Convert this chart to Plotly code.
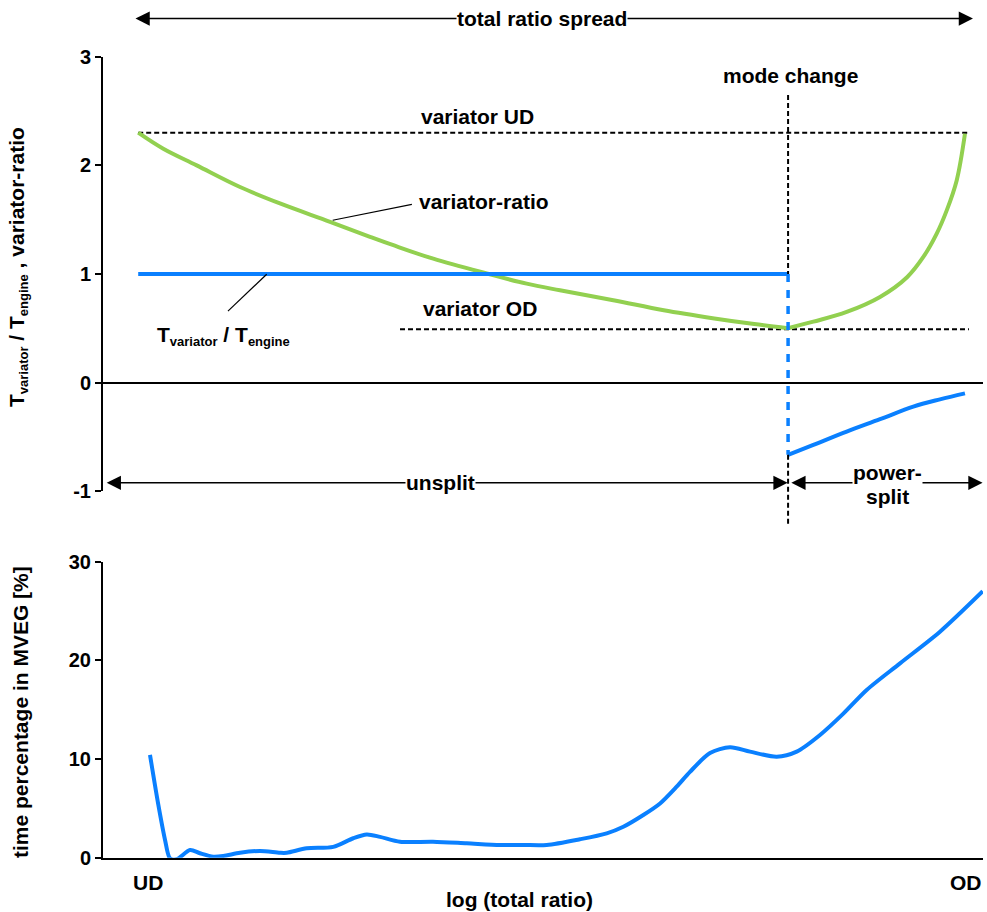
import plotly.graph_objects as go

FONT = "Liberation Sans, Arial, sans-serif"
GREEN = "#92D050"
BLUE = "#0A80FF"

# x = position along the log(total ratio) axis, in % of the axis length (0..100)
mode_change_x = 77.85

# --- top panel -----------------------------------------------------------
variator_ud = 2.30
variator_od = 0.49
ud_line_x = [4.0, 98.4]
od_line_x = [33.75, 98.4]

ratio_unsplit_x = [4.0, 6.85, 10.65, 15.57, 20.11, 25.8, 30.34, 33.0, 37.53,
                   43.6, 48.14, 51.93, 57.99, 63.72, 69.47, 74.0, 77.85]
ratio_unsplit_y = [2.30, 2.152, 1.999, 1.80, 1.649, 1.48, 1.342, 1.264, 1.14,
                   1.004, 0.91, 0.849, 0.758, 0.665, 0.59, 0.538, 0.50]

ratio_split_x = [77.85, 80.72, 84.51, 88.3, 91.4, 93.22, 94.74, 95.88, 97.01, 97.95]
ratio_split_y = [0.50, 0.56, 0.65, 0.788, 0.972, 1.156, 1.371, 1.585, 1.861, 2.29]

torque_unsplit_x = [4.0, 77.85]
torque_unsplit_y = [1.0, 1.0]
torque_jump_x = [77.85, 77.85]
torque_jump_y = [1.0, -0.666]
torque_split_x = [77.85, 80.72, 84.51, 88.3, 92.08, 95.11, 97.95]
torque_split_y = [-0.666, -0.574, -0.452, -0.338, -0.222, -0.155, -0.10]

# leader lines for the labels
ratio_leader_x = [26.1, 35.1]
ratio_leader_y = [1.494, 1.641]
torque_leader_x = [14.2, 18.6]
torque_leader_y = [0.657, 0.997]

top_yticks = [-1, 0, 1, 2, 3]
top_yticklabels = ["-1", "0", "1", "2", "3"]

# --- bottom panel --------------------------------------------------------
mveg_x = [5.34, 6.28, 7.05, 7.61, 8.38, 9.89, 11.02, 12.53, 13.67, 15.57,
          17.84, 20.11, 20.88, 23.15, 26.17, 28.44, 29.97, 31.48, 33.75, 37.5,
          41.33, 45.11, 47.73, 50.42, 54.2, 57.24, 59.13, 61.4, 63.3, 65.19,
          66.7, 68.98, 71.25, 73.52, 76.56, 78.83, 81.48, 84.13, 86.78, 90.57,
          95.11, 99.97]
mveg_y = [10.42, 5.4, 1.8, -0.06, -0.16, 0.78, 0.45, 0.1, 0.17, 0.5,
          0.68, 0.5, 0.5, 0.95, 1.1, 1.97, 2.35, 2.11, 1.62, 1.62,
          1.46, 1.29, 1.29, 1.29, 1.87, 2.47, 3.14, 4.33, 5.5, 7.2,
          8.7, 10.6, 11.2, 10.75, 10.24, 10.75, 12.44, 14.6, 17.0, 19.7,
          22.9, 27.0]

bottom_yticks = [0, 10, 20, 30]
x_end_labels = ["UD", "OD"]
x_end_pos = [5.11, 98.07]

fig = go.Figure()

def line(x, y, color, width, dash="solid", xa="x", ya="y", shape="linear", smoothing=1.0):
    fig.add_trace(go.Scatter(
        x=x, y=y, mode="lines", xaxis=xa, yaxis=ya, hoverinfo="skip",
        line=dict(color=color, width=width, dash=dash, shape=shape,
                  smoothing=smoothing if shape == "spline" else None),
        showlegend=False))

# dashed reference lines
line(ud_line_x, [variator_ud, variator_ud], "black", 2, "5px,3px")
line(od_line_x, [variator_od, variator_od], "black", 2, "5px,3px")

# variator ratio
line(ratio_unsplit_x, ratio_unsplit_y, GREEN, 4, shape="spline", smoothing=1.0)
line(ratio_split_x, ratio_split_y, GREEN, 4, shape="spline", smoothing=1.0)

# torque ratio
line(torque_unsplit_x, torque_unsplit_y, BLUE, 4)
line(torque_jump_x, torque_jump_y, BLUE, 3.5, "8px,8px")
line(torque_split_x, torque_split_y, BLUE, 4, shape="spline", smoothing=1.0)

# leader lines
line(ratio_leader_x, ratio_leader_y, "black", 1.2)
line(torque_leader_x, torque_leader_y, "black", 1.2)

# bottom curve
line(mveg_x, mveg_y, BLUE, 4, xa="x2", ya="y2", shape="spline", smoothing=0.8)

XDOM = [103 / 987, 983 / 987]
tickfont = dict(family=FONT, size=20, color="black", weight="bold")
axis_common = dict(showline=True, linecolor="black", linewidth=2, ticks="outside",
                   ticklen=6, tickwidth=2, tickcolor="black", showgrid=False,
                   tickfont=tickfont, automargin=False)

TOP_DOM = [(912 - 491.1) / 912, (912 - 56.7) / 912]

fig.update_layout(
    width=987, height=912,
    margin=dict(l=0, r=0, t=0, b=0, autoexpand=False),
    paper_bgcolor="white", plot_bgcolor="white",
    showlegend=False,
    xaxis=dict(domain=XDOM, range=[0, 100], visible=False, anchor="y", automargin=False),
    yaxis=dict(domain=TOP_DOM, range=[-1, 3],
               tickvals=top_yticks, ticktext=top_yticklabels, zeroline=True,
               zerolinecolor="black", zerolinewidth=2, anchor="x", **axis_common),
    xaxis2=dict(domain=XDOM, range=[0, 100], showline=True, linecolor="black",
                linewidth=2, showticklabels=False, ticks="", showgrid=False,
                zeroline=False, anchor="y2", automargin=False),
    yaxis2=dict(domain=[(912 - 857.7) / 912, (912 - 561.7) / 912], range=[0, 30],
                tickvals=bottom_yticks, zeroline=False, anchor="x2", **axis_common),
)

# mode change vertical dashed line (black parts above and below the blue jump)
def y_to_paper(v):
    return TOP_DOM[0] + (v + 1) / 4 * (TOP_DOM[1] - TOP_DOM[0])

for y0, y1 in [((912 - 95) / 912, y_to_paper(torque_jump_y[0])),
               (y_to_paper(torque_jump_y[1]), (912 - 524) / 912)]:
    fig.add_shape(type="line", xref="x", yref="paper", x0=mode_change_x, x1=mode_change_x,
                  y0=y0, y1=y1, line=dict(color="black", width=2, dash="5px,3px"))

afont = dict(family=FONT, size=21, color="black", weight="bold")

def text(t, x, y, xref="x", yref="y", bg=None, angle=0):
    fig.add_annotation(text=t, x=x, y=y, xref=xref, yref=yref, showarrow=False,
                       font=afont, xanchor="center", yanchor="middle",
                       bgcolor=bg, textangle=angle, borderpad=0)

def arrow(x_tail, x_head, y, yref="y"):
    if yref == "y":
        fig.add_annotation(x=x_head, y=y, ax=x_tail, ay=y, xref="x", yref="y",
                           axref="x", ayref="y", text="", showarrow=True,
                           arrowside="end+start", arrowhead=2, startarrowhead=2,
                           arrowsize=1.9, startarrowsize=1.9, arrowwidth=1.5,
                           arrowcolor="black")
    else:
        fig.add_annotation(x=x_head, y=y, ax=x_tail, ay=0, xref="x", yref="paper",
                           axref="x", ayref="pixel", text="", showarrow=True,
                           arrowside="end+start", arrowhead=2, startarrowhead=2,
                           arrowsize=1.9, startarrowsize=1.9, arrowwidth=1.5,
                           arrowcolor="black")

# arrows
arrow(3.52, 98.86, (912 - 18.5) / 912, yref="paper")
arrow(0.25, 77.8, -0.924)
arrow(78.05, 99.95, -0.924)

SUB = "<sub><span style='font-size:13px'>{}</span></sub>"

# labels
text("total ratio spread", 49.94, (912 - 18.5) / 912, yref="paper", bg="white")
text("mode change", 78.07, 2.83)
text("variator UD", 42.6, 2.45)
text("variator-ratio", 43.3, 1.665)
text("variator OD", 42.8, 0.68)
text("T" + SUB.format("variator") + " / T" + SUB.format("engine"), 13.7, 0.43)
text("unsplit", 38.4, -0.924, bg="white")
text("power-", 89.1, -0.832, bg="white")
text("split", 89.1, (912 - 496) / 912, yref="paper")

# axis titles
text("T" + SUB.format("variator") + " / T" + SUB.format("engine") + " , variator-ratio",
     18 / 987, (912 - 267) / 912, xref="paper", yref="paper", angle=-90)
text("time percentage in MVEG [%]", 20 / 987, (912 - 712) / 912,
     xref="paper", yref="paper", angle=-90)

for lab, pos in zip(x_end_labels, x_end_pos):
    text(lab, pos, (912 - 882) / 912, xref="x2", yref="paper")
text("log (total ratio)", 47.3, (912 - 899) / 912, xref="x2", yref="paper")

fig.write_html("out.html",
               config={"displayModeBar": False, "staticPlot": True},
               post_script="document.body.style.margin='0';"
                           "document.body.style.overflow='hidden';")
